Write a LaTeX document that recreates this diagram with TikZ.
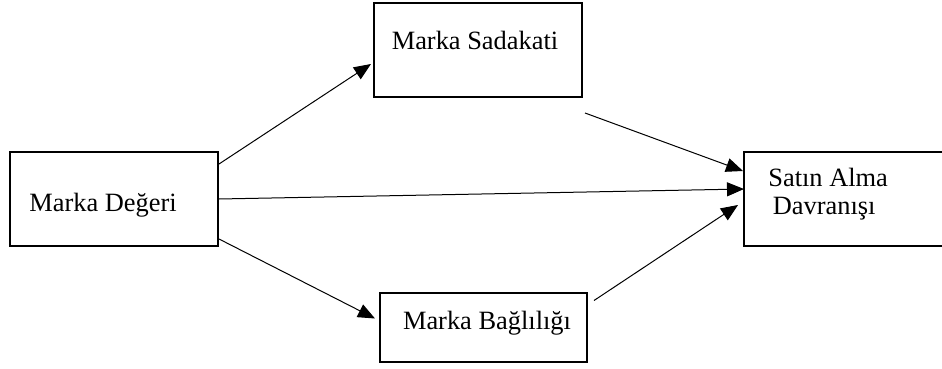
\documentclass[tikz,border=0pt]{standalone}
\usepackage{fontspec}
\setmainfont{Liberation Serif}
\usetikzlibrary{arrows.meta,calc}

\begin{document}
\begin{tikzpicture}[x=0.5pt, y=-0.5pt, >={Triangle[length=8.5pt,width=7pt]},
      font=\fontsize{13.2}{14}\selectfont,
      box/.style={draw, line width=1pt, inner sep=0pt},
      txt/.style={inner sep=0pt},
      link/.style={->, line width=0.5pt}]
    \useasboundingbox (0,0) rectangle (942,369);
    % boxes
    \node (deg) [box, minimum width=104pt, minimum height=47pt] at (114,199) {};
    \node (sad) [box, minimum width=104pt, minimum height=47pt] at (478,50) {};
    \node (bag) [box, minimum width=103.5pt, minimum height=34.5pt] at (483.5,327.5) {};
    \node (sat) [inner sep=0pt, minimum width=99pt, minimum height=47pt, anchor=west] at (744,199) {};
    \draw[line width=1pt] (sat.north east) -- (sat.north west) -- (sat.south west) -- (sat.south east);
    % texts
    \node (degT) [txt] at (103,205) {Marka Değeri};
    \node (sadT) [txt] at (475,40) {Marka Sadakati};
    \node (bagT) [txt] at (487,323) {Marka Bağlılığı};
    \node (satT) [txt, align=left, anchor=west] at (768,194) {Satın Alma\\\,Davranışı};
    % arrows
    \draw[link] ($(deg.north east)+(0,13)$) -- ($(sad.west)+(-2,14)$);
    \draw[link] (deg.east) -- ($(sat.west)+(0,-10)$);
    \draw[link] ($(deg.south east)+(0,-8)$) -- ($(bag.west)+(-4,-9)$);
    \draw[link] ($(sad.south east)+(2,15)$) -- ($(sat.west)+(-1,-28)$);
    \draw[link] ($(bag.east)+(6,-27)$) -- ($(sat.west)+(-6,6)$);
\end{tikzpicture}
\end{document}
